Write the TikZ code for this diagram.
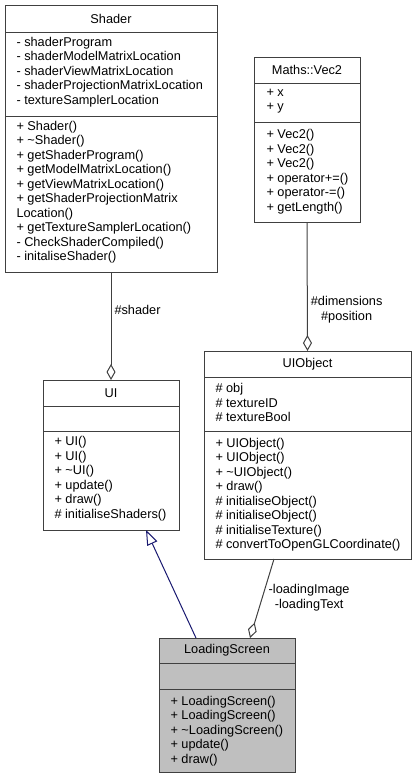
\documentclass[tikz,border=0pt]{standalone}
\usepackage{fontspec}
\setmainfont{Liberation Sans}
\usetikzlibrary{arrows.meta}

\definecolor{boxgrey}{HTML}{404040}
\definecolor{activegrey}{HTML}{BFBFBF}
\definecolor{edgeblue}{HTML}{191970}

\begin{document}
\begin{tikzpicture}[x=1pt,y=-1pt,line width=1pt,
        every node/.style={font=\fontsize{12.75}{14.5}\selectfont, inner sep=0pt},
        class box/.style={draw=boxgrey, fill=white, anchor=north west, outer sep=0pt},
        title/.style={anchor=center},
        members/.style={anchor=west, align=left},
        sep/.style={draw=boxgrey},
        aggr/.style={draw=boxgrey, {Diamond[open,length=16pt,width=9pt]}-},
        inherit/.style={draw=edgeblue, -{Triangle[open,length=15pt,width=11pt]}}]

    \useasboundingbox (0,0) rectangle (416,779);

    % class boxes
    \node[class box, minimum width=212pt, minimum height=267pt] (shader) at (5,5) {};
    \node[class box, minimum width=106pt, minimum height=165pt] (vec2) at (254,57) {};
    \node[class box, minimum width=136pt, minimum height=150pt] (ui) at (43,380) {};
    \node[class box, minimum width=207pt, minimum height=208pt] (uiobject) at (204,351) {};
    \node[class box, fill=activegrey, minimum width=136pt, minimum height=134pt] (loading) at (159,638) {};

    % compartments
    \draw[sep] ([yshift=-27pt]shader.north west) -- ([yshift=-27pt]shader.north east)
        ([yshift=-111pt]shader.north west) -- ([yshift=-111pt]shader.north east);
    \draw[sep] ([yshift=-26pt]vec2.north west) -- ([yshift=-26pt]vec2.north east)
        ([yshift=-65pt]vec2.north west) -- ([yshift=-65pt]vec2.north east);
    \draw[sep] ([yshift=-26pt]ui.north west) -- ([yshift=-26pt]ui.north east)
        ([yshift=-51pt]ui.north west) -- ([yshift=-51pt]ui.north east);
    \draw[sep] ([yshift=-26pt]uiobject.north west) -- ([yshift=-26pt]uiobject.north east)
        ([yshift=-80pt]uiobject.north west) -- ([yshift=-80pt]uiobject.north east);
    \draw[sep] ([yshift=-25pt]loading.north west) -- ([yshift=-25pt]loading.north east)
        ([yshift=-51pt]loading.north west) -- ([yshift=-51pt]loading.north east);

    \node[title] (shadertitle) at (111,18.5) {Shader};
    \node[members] (shaderattr) at (16,72) {- shaderProgram\\- shaderModelMatrixLocation\\- shaderViewMatrixLocation\\- shaderProjectionMatrixLocation\\- textureSamplerLocation};
    \node[members] (shaderops) at (16,192) {+ Shader()\\+ \textasciitilde Shader()\\+ getShaderProgram()\\+ getModelMatrixLocation()\\+ getViewMatrixLocation()\\+ getShaderProjectionMatrix\\Location()\\+ getTextureSamplerLocation()\\- CheckShaderCompiled()\\- initaliseShader()};

    \node[title] (vec2title) at (307,70) {Maths::Vec2};
    \node[members] (vec2attr) at (266,101) {+ x\\+ y};
    \node[members] (vec2ops) at (266,171.5) {+ Vec2()\\+ Vec2()\\+ Vec2()\\+ operator+=()\\+ operator-=()\\+ getLength()};

    \node[title] (uititle) at (111,393) {UI};
    \node[members] (uiops) at (54,478.5) {+ UI()\\+ UI()\\+ \textasciitilde UI()\\+ update()\\+ draw()\\\# initialiseShaders()};

    \node[title] (uiobjecttitle) at (307.5,364) {UIObject};
    \node[members] (uiobjectattr) at (215,402.5) {\# obj\\\# textureID\\\# textureBool};
    \node[members] (uiobjectops) at (215,494.5) {+ UIObject()\\+ UIObject()\\+ \textasciitilde UIObject()\\+ draw()\\\# initialiseObject()\\\# initialiseObject()\\\# initialiseTexture()\\\# convertToOpenGLCoordinate()};

    \node[title] (loadingtitle) at (227,650.5) {LoadingScreen};
    \node[members] (loadingops) at (170,731) {+ LoadingScreen()\\+ LoadingScreen()\\+ \textasciitilde LoadingScreen()\\+ update()\\+ draw()};

    % relations
    \path[every node/.append style={align=center}]
    (ui.north) edge [aggr] node[pos=0.65, right=3pt] {\#shader} (shader.south)
    (uiobject.north) edge [aggr] node[pos=0.32, right=3pt] {\#dimensions\\\#position} (vec2.south)
    ([xshift=23pt]loading.north) edge [aggr] node[pos=0.51, right=6pt] {-loadingImage\\-loadingText} ([xshift=-33.5pt]uiobject.south)
    ([xshift=-31pt]loading.north) edge [inherit] ([xshift=35pt]ui.south);

\end{tikzpicture}
\end{document}
